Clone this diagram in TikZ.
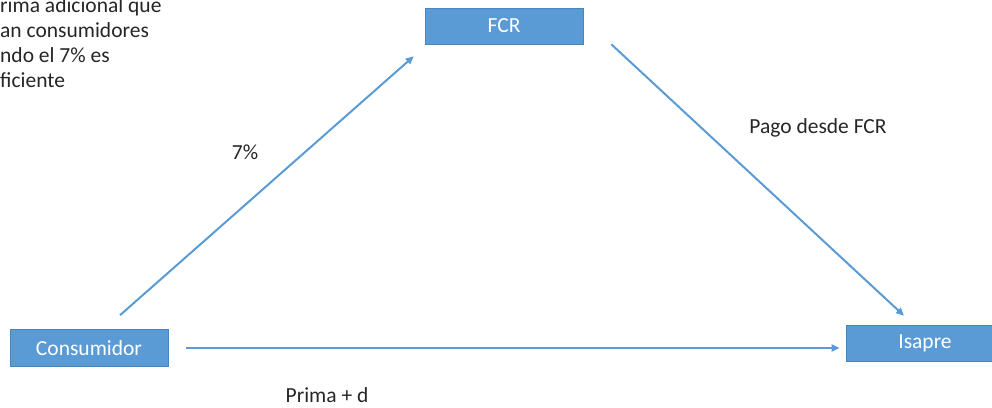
\documentclass[tikz,border=0pt]{standalone}
\usepackage{fontspec}
\setmainfont{Carlito}
\usetikzlibrary{arrows.meta,positioning}

\definecolor{boxblue}{HTML}{5B9BD5}
\definecolor{boxline}{HTML}{4A86BE}
\definecolor{txtgray}{HTML}{262626}

\tikzset{
  entity/.style={rectangle,fill=boxblue,draw=boxline,line width=0.6pt,
    minimum width=158pt,minimum height=36pt,inner sep=0pt,text=white},
  flow/.style={draw=boxblue,line width=2pt,-{Triangle[length=8pt,width=7pt]}},
  lbl/.style={text=txtgray,inner sep=0pt}
}

\begin{document}
\begin{tikzpicture}[x=1pt,y=-1pt,font=\fontsize{21.5}{25}\selectfont]
                \useasboundingbox (0,0) rectangle (992,407);

                \node[entity] (fcr) at (504,26) {FCR};
                \node[entity,minimum height=37pt] (cons) at (89,348) {Consumidor};
                \node[entity] (isapre) at (925,343) {Isapre};

                \path[flow] ([shift={(31pt,14pt)}]cons.north) -- ([shift={(-11pt,-12pt)}]fcr.south west);
                \path[flow] ([shift={(28pt,0pt)}]fcr.south east) -- ([shift={(-21pt,9pt)}]isapre.north);
                \path[flow] ([shift={(18pt,0pt)}]cons.east) -- ([shift={(-6pt,-5pt)}]isapre.west);

                \node[lbl] (pct) at (245,152) {7\%};
                \node[lbl] (pago) at (818,128) {Pago desde FCR};
                \node[lbl] (prima) at (327,395) {Prima + d};

                % texto recortado en el borde izquierdo
                \foreach \txt [count=\i] in {rima adicional que,an consumidores,ndo el 7\% es,ficiente}
                  \node[lbl,anchor=base west] (nota\i) at (0,{12+25*(\i-1)}) {\txt};
            \end{tikzpicture}
\end{document}
